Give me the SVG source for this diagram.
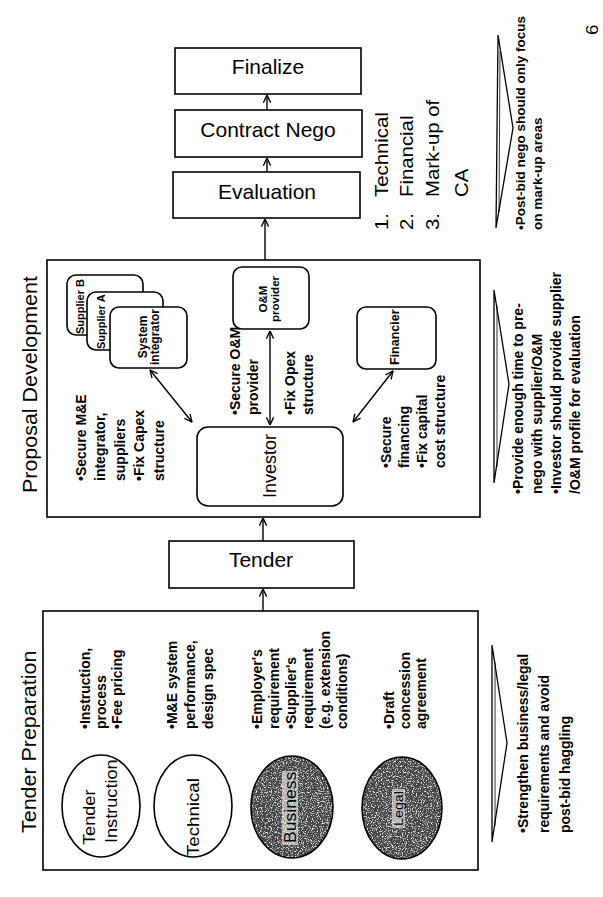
<svg xmlns="http://www.w3.org/2000/svg" width="603" height="897" viewBox="0 0 603 897">
  <defs>
    <style>
      .box { fill: #fff; stroke: #000; stroke-width: 1.6; }
      .conn { fill: none; stroke: #000; stroke-width: 1.4; }
      .t { font-family: "Liberation Sans", Arial, sans-serif; fill: #000; }
      .reg { font-weight: normal; }
      .bul { font-weight: bold; font-size: 14px; }
      .small { font-weight: bold; }
      .chev { fill: #fff; stroke: #000; stroke-width: 1.3; stroke-linejoin: miter; }
      .chev-in { fill: none; stroke: #000; stroke-width: 0.8; }
    </style>
    <marker id="arr" viewBox="0 0 10 10" refX="9.5" refY="5" markerWidth="9" markerHeight="9" markerUnits="userSpaceOnUse" orient="auto-start-reverse">
      <path d="M1,1 L9.5,5 L1,9" fill="none" stroke="#000" stroke-width="1.5"/>
    </marker>
    <!-- speckled halftone used on the shaded ellipses -->
    <filter id="grain" x="-5%" y="-5%" width="110%" height="110%">
      <feTurbulence type="fractalNoise" baseFrequency="0.8" numOctaves="2" seed="7" result="noise"/>
      <feColorMatrix in="noise" type="matrix" values="0 0 0 0 1  0 0 0 0 1  0 0 0 0 1  4 0 0 0 -2.1" result="specks"/>
      <feComposite in="specks" in2="SourceGraphic" operator="in" result="clipped"/>
      <feMerge><feMergeNode in="SourceGraphic"/><feMergeNode in="clipped"/></feMerge>
    </filter>
    <clipPath id="finClip"><rect x="357" y="307" width="79" height="62" rx="9"/></clipPath>
  </defs>

  <!-- Stage 1: tender preparation -->
  <g id="tender-preparation">
    <rect class="box" x="43" y="611" width="435" height="259"/>
    <text class="t reg" font-size="19.5" transform="translate(36,833) rotate(-90) scale(1.1,1)">Tender Preparation</text>

    <g id="tender-instruction">
      <ellipse class="box" cx="101" cy="806" rx="39" ry="51"/>
      <text class="t reg" font-size="16.5" transform="translate(95,845) rotate(-90) scale(1.1,1)">Tender</text>
      <text class="t reg" font-size="16.5" transform="translate(117,843) rotate(-90) scale(1.1,1)">Instruction</text>
      <text class="t bul" transform="translate(90,729) rotate(-90)"><tspan x="0" y="0">•Instruction,</tspan><tspan x="0" y="16">process</tspan><tspan x="0" y="32">•Fee pricing</tspan></text>
    </g>

    <g id="technical">
      <ellipse class="box" cx="193" cy="806" rx="39" ry="51"/>
      <text class="t reg" font-size="17" transform="translate(199,856) rotate(-90) scale(1.1,1)">Technical</text>
      <text class="t bul" transform="translate(177,729) rotate(-90)"><tspan x="0" y="0">•M&amp;E system</tspan><tspan x="0" y="18">performance,</tspan><tspan x="0" y="36">design spec</tspan></text>
    </g>

    <g id="business">
      <g filter="url(#grain)">
        <ellipse cx="292" cy="807" rx="41" ry="51" fill="#454545"/>
        <rect x="282" y="771" width="16" height="74" fill="#b0b0b0"/>
      </g>
      <ellipse cx="292" cy="807" rx="41" ry="51" fill="none" stroke="#000" stroke-width="1.6"/>
      <text class="t reg" font-size="16" transform="translate(296,843) rotate(-90) scale(1.1,1)">Business</text>
      <text class="t bul" transform="translate(262,729) rotate(-90)"><tspan x="0" y="0">•Employer's</tspan><tspan x="0" y="17">requirement</tspan><tspan x="0" y="34">•Supplier's</tspan><tspan x="0" y="51">requirement</tspan><tspan x="0" y="68">(e.g. extension</tspan><tspan x="0" y="85">conditions)</tspan></text>
    </g>

    <g id="legal">
      <g filter="url(#grain)">
        <ellipse cx="402" cy="808" rx="40" ry="51" fill="#454545"/>
        <rect x="392" y="789" width="13" height="39" fill="#b0b0b0"/>
      </g>
      <ellipse cx="402" cy="808" rx="40" ry="51" fill="none" stroke="#000" stroke-width="1.6"/>
      <text class="t reg" font-size="13" transform="translate(403,826) rotate(-90) scale(1.1,1)">Legal</text>
      <text class="t bul" transform="translate(394,729) rotate(-90)"><tspan x="0" y="0">•Draft</tspan><tspan x="0" y="16">concession</tspan><tspan x="0" y="32">agreement</tspan></text>
    </g>
  </g>

  <!-- Stage 2: tender -->
  <g id="tender">
    <rect class="box" x="169" y="541" width="185" height="47"/>
    <text class="t reg" font-size="21" x="261" y="567" text-anchor="middle">Tender</text>
  </g>

  <!-- Stage 3: proposal development -->
  <g id="proposal-development">
    <rect class="box" x="47" y="260" width="433" height="257"/>
    <text class="t reg" font-size="19.5" transform="translate(37,493) rotate(-90) scale(1.1,1)">Proposal Development</text>
    <text class="t bul" transform="translate(86,481) rotate(-90)"><tspan x="0" y="0">•Secure M&amp;E</tspan><tspan x="0" y="19">integrator,</tspan><tspan x="0" y="39">suppliers</tspan><tspan x="0" y="58">•Fix Capex</tspan><tspan x="0" y="78">structure</tspan></text>
    <text class="t bul" transform="translate(240,415) rotate(-90)"><tspan x="0" y="0">•Secure O&amp;M</tspan><tspan x="0" y="18">provider</tspan><tspan x="0" y="55">•Fix Opex</tspan><tspan x="0" y="73">structure</tspan></text>
    <text class="t bul" transform="translate(391,468) rotate(-90)"><tspan x="0" y="0">•Secure</tspan><tspan x="0" y="18">financing</tspan><tspan x="0" y="36">•Fix capital</tspan><tspan x="0" y="54">cost structure</tspan></text>
  </g>

  <g id="supplier-b">
    <rect class="box" x="67" y="275" width="76" height="60" rx="9"/>
    <text class="t small" font-size="11" transform="translate(84,334) rotate(-90)">Supplier B</text>
  </g>
  <g id="supplier-a">
    <rect class="box" x="87" y="292" width="76" height="58" rx="9"/>
    <text class="t small" font-size="11" transform="translate(105,349) rotate(-90)">Supplier A</text>
  </g>
  <g id="system-integrator">
    <rect class="box" x="110" y="307" width="77" height="61" rx="9"/>
    <text class="t small" font-size="12" text-anchor="middle" transform="translate(147,337) rotate(-90)"><tspan x="0" y="0">System</tspan><tspan x="0" y="12">integrator</tspan></text>
  </g>
  <g id="om-provider">
    <rect class="box" x="233" y="267" width="76" height="62" rx="9"/>
    <text class="t small" font-size="11.5" text-anchor="middle" transform="translate(267,299) rotate(-90)"><tspan x="0" y="0">O&amp;M</tspan><tspan x="0" y="12">provider</tspan></text>
  </g>
  <g id="investor">
    <rect class="box" x="197" y="427" width="146" height="79" rx="11"/>
    <text class="t reg" font-size="18" text-anchor="middle" transform="translate(276,466) rotate(-90)">Investor</text>
  </g>
  <g id="financier">
    <rect class="box" x="357" y="307" width="79" height="62" rx="9"/>
    <g clip-path="url(#finClip)">
      <text class="t small" font-size="12.5" transform="translate(399,365) rotate(-90)">Financier</text>
    </g>
  </g>

  <!-- Stages 4-6 -->
  <g id="evaluation">
    <rect class="box" x="173" y="172" width="187" height="46"/>
    <text class="t reg" font-size="21" x="267" y="199" text-anchor="middle">Evaluation</text>
    <text class="t reg" font-size="18.5" transform="translate(388,230) rotate(-90) scale(1.1,1)">1.</text>
    <text class="t reg" font-size="18.5" transform="translate(413,230) rotate(-90) scale(1.1,1)">2.</text>
    <text class="t reg" font-size="18.5" transform="translate(439,230) rotate(-90) scale(1.1,1)">3.</text>
    <text class="t reg" font-size="18.5" transform="translate(388,197) rotate(-90) scale(1.1,1)">Technical</text>
    <text class="t reg" font-size="18.5" transform="translate(413,197) rotate(-90) scale(1.1,1)">Financial</text>
    <text class="t reg" font-size="18.5" transform="translate(439,197) rotate(-90) scale(1.1,1)">Mark-up of</text>
    <text class="t reg" font-size="18.5" transform="translate(468,197) rotate(-90) scale(1.1,1)">CA</text>
  </g>
  <g id="contract-nego">
    <rect class="box" x="175" y="110" width="187" height="47"/>
    <text class="t reg" font-size="21" x="268" y="137" text-anchor="middle">Contract Nego</text>
  </g>
  <g id="finalize">
    <rect class="box" x="175" y="48" width="186" height="46"/>
    <text class="t reg" font-size="21" x="268" y="74" text-anchor="middle">Finalize</text>
  </g>

  <!-- Lessons beside each stage -->
  <g id="note-preparation">
    <polygon class="chev" points="492,645 507,743 492,842"/>
    <line class="chev-in" x1="495" y1="662" x2="495" y2="826"/>
    <text class="t bul" transform="translate(528,833) rotate(-90)"><tspan x="0" y="0">•Strengthen business/legal</tspan><tspan x="0" y="21">requirements and avoid</tspan><tspan x="0" y="42">post-bid haggling</tspan></text>
  </g>
  <g id="note-proposal">
    <polygon class="chev" points="494,290 509,384 494,483"/>
    <line class="chev-in" x1="497" y1="306" x2="497" y2="467"/>
    <text class="t bul" transform="translate(523,494) rotate(-90)"><tspan x="0" y="0">•Provide enough time to pre-</tspan><tspan x="0" y="19">nego with supplier/O&amp;M</tspan><tspan x="0" y="38">•Investor should provide supplier</tspan><tspan x="0" y="57">/O&amp;M profile for evaluation</tspan></text>
  </g>
  <g id="note-negotiation">
    <polygon class="chev" points="498,35 513,128 496,228"/>
    <line class="chev-in" x1="500" y1="51" x2="499" y2="212"/>
    <text class="t bul" style="font-size:13.5px" transform="translate(525,230) rotate(-90)"><tspan x="0" y="0">•Post-bid nego should only focus</tspan><tspan x="0" y="17">on mark-up areas</tspan></text>
  </g>

  <text id="page-number" class="t reg" font-size="17" transform="translate(598,35) rotate(-90) scale(1.1,1)">6</text>

  <!-- Connectors -->
  <g id="connectors">
    <line class="conn" x1="263" y1="611" x2="263" y2="589" marker-end="url(#arr)"/>
    <line class="conn" x1="263" y1="541" x2="263" y2="518" marker-end="url(#arr)"/>
    <line class="conn" x1="265" y1="260" x2="265" y2="219" marker-end="url(#arr)"/>
    <line class="conn" x1="267" y1="172" x2="267" y2="158" marker-end="url(#arr)"/>
    <line class="conn" x1="267" y1="110" x2="267" y2="95" marker-end="url(#arr)"/>
    <line class="conn" x1="150" y1="370" x2="192" y2="422" marker-start="url(#arr)" marker-end="url(#arr)"/>
    <line class="conn" x1="270" y1="331" x2="270" y2="425" marker-start="url(#arr)" marker-end="url(#arr)"/>
    <line class="conn" x1="353" y1="422" x2="393" y2="371" marker-start="url(#arr)" marker-end="url(#arr)"/>
  </g>
</svg>
